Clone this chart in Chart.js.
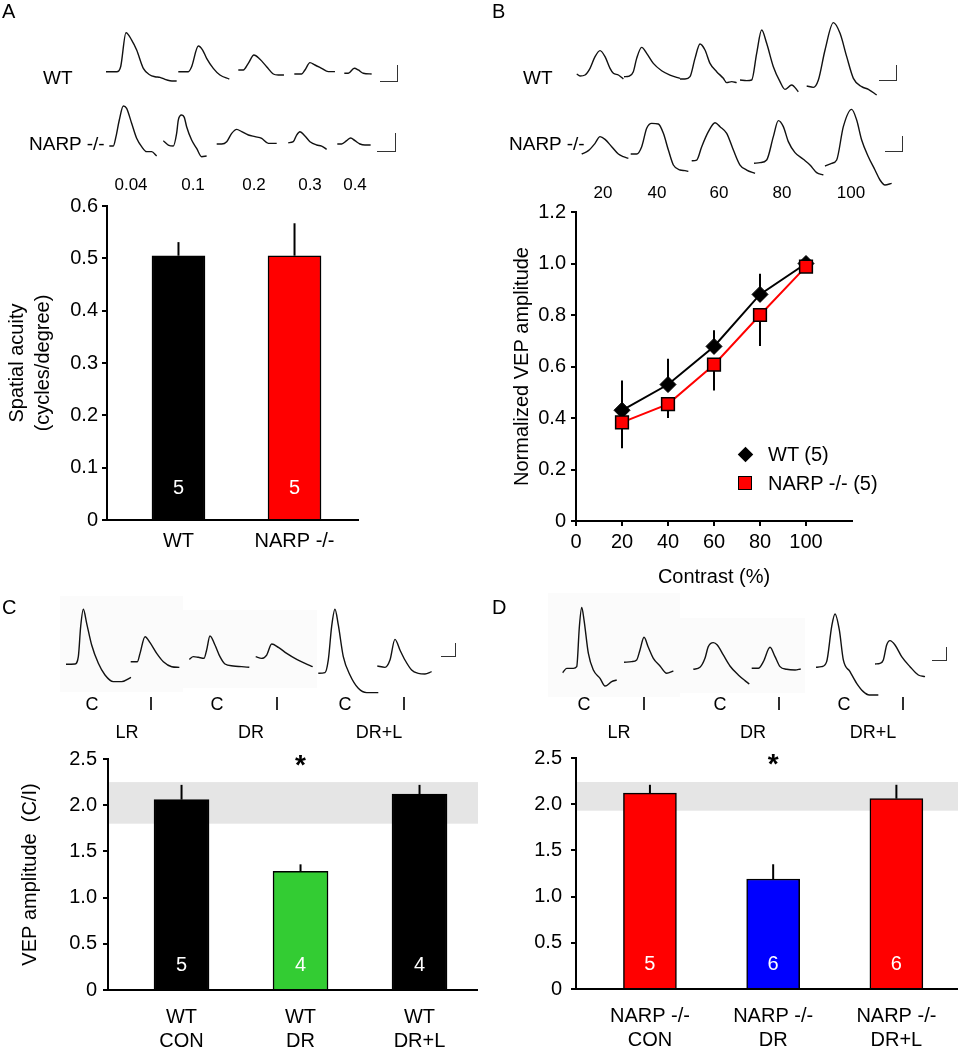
<!DOCTYPE html>
<html>
<head>
<meta charset="utf-8">
<script src="https://cdn.jsdelivr.net/npm/chart.js@4.4.0/dist/chart.umd.min.js"></script>
<style>
body { margin: 0; background: #fff; width: 958px; height: 1050px; position: relative; overflow: hidden;
       font-family: "Liberation Sans", Arial, sans-serif; color: #000; }
canvas { position: absolute; }
.t { position: absolute; transform: translate(-50%, -50%); white-space: nowrap; font-size: 18px; }
.l { position: absolute; transform: translateY(-50%); white-space: nowrap; font-size: 19px; }
.sb { position: absolute; border-right: 1.5px solid #333; border-bottom: 1.5px solid #333; }
.bg { position: absolute; background: #fbfbfb; }
</style>
</head>
<body>
<div class="bg" style="left:60px;top:596px;width:123px;height:96px"></div>
<div class="bg" style="left:183px;top:610px;width:134px;height:78px"></div>
<div class="bg" style="left:548px;top:593px;width:132px;height:104px"></div>
<div class="bg" style="left:680px;top:618px;width:125px;height:75px"></div>

<canvas id="chartA" width="420" height="380" style="left:0;top:180px"></canvas>
<canvas id="chartB" width="478" height="406" style="left:480px;top:185px"></canvas>
<canvas id="chartC" width="480" height="315" style="left:0;top:735px"></canvas>
<canvas id="chartD" width="478" height="315" style="left:480px;top:735px"></canvas>
<canvas id="traces" width="958" height="1050" style="left:0;top:0;pointer-events:none"></canvas>

<div class="sb" style="left:380px;top:65px;width:17px;height:16px"></div>
<div class="sb" style="left:377px;top:133px;width:18px;height:18px"></div>
<div class="sb" style="left:879px;top:65px;width:17px;height:15px"></div>
<div class="sb" style="left:885px;top:136px;width:17px;height:15px"></div>
<div class="sb" style="left:441px;top:643px;width:14px;height:13px"></div>
<div class="sb" style="left:932px;top:647px;width:14px;height:13px"></div>

<div id="texts"></div>

<script>
// ---- A: spatial acuity ----
const groupsA = ['WT', 'NARP -/-'];
const acuity = [0.505, 0.505];
const acuityErr = [0.026, 0.062];
const nA = [5, 5];
const spatialFreqs = ['0.04', '0.1', '0.2', '0.3', '0.4'];

// ---- B: contrast response ----
const contrast = [20, 40, 60, 80, 100];
const wtAmp = [0.43, 0.53, 0.678, 0.88, 1.0];
const wtErr = [0.116, 0.10, 0.063, 0.08, 0];
const narpAmp = [0.383, 0.454, 0.607, 0.80, 0.988];
const narpErr = [0.10, 0.054, 0.10, 0.12, 0];

// ---- C / D: C/I ratio ----
const rearing = ['LR', 'DR', 'DR+L'];
const eyes = ['C', 'I', 'C', 'I', 'C', 'I'];
const groupsC = [['WT', 'CON'], ['WT', 'DR'], ['WT', 'DR+L']];
const ratioC = [2.06, 1.285, 2.12];
const ratioErrC = [0.16, 0.075, 0.10];
const nC = [5, 4, 4];
const bandC = [1.80, 2.25];
const groupsD = [['NARP -/-', 'CON'], ['NARP -/-', 'DR'], ['NARP -/-', 'DR+L']];
const ratioD = [2.12, 1.19, 2.06];
const ratioErrD = [0.09, 0.16, 0.15];
const nD = [5, 6, 6];
const bandD = [1.93, 2.24];
const signif = ['', '*', ''];

// ---- example VEP traces: [time ms, amplitude uV] ----
const tracesA_WT = [
  [[0,0],[64,0],[88,15],[120,117],[154,95],[184,65],[224,10],[264,-10],[294,-15],[324,-17],[354,-23],[384,-27],[424,-28]],
  [[0,0],[60,0],[80,15],[120,77],[146,65],[170,40],[210,10],[250,-10],[306,-22]],
  [[0,0],[30,0],[60,20],[94,45],[130,32],[170,10],[210,-12],[240,-15],[274,-15]],
  [[0,0],[44,0],[64,12],[94,34],[124,27],[164,17],[204,7],[244,7]],
  [[0,0],[24,0],[60,15],[84,10],[114,0],[164,-2]]
];
const tracesA_NARP = [
  [[0,0],[24,0],[40,28],[60,78],[84,120],[104,113],[134,68],[164,23],[194,-2],[224,-17],[254,-17],[284,-30]],
  [[0,0],[30,-13],[60,-16],[80,22],[90,62],[110,77],[126,70],[140,42],[170,2],[200,-23],[230,-48],[260,-46]],
  [[0,0],[30,0],[60,7],[90,32],[120,44],[150,37],[190,27],[230,22],[270,17],[310,2],[360,2]],
  [[0,0],[30,3],[50,23],[70,33],[100,20],[130,3],[170,-7],[200,-10],[230,-20]],
  [[0,0],[26,0],[56,10],[80,18],[106,10],[136,0],[166,-3],[200,-3]]
];
const tracesB_WT = [
  [[0,0],[20,-6],[50,-3],[80,17],[110,52],[140,70],[170,52],[200,17],[220,2],[250,-3],[280,-15]],
  [[0,0],[32,2],[56,15],[76,55],[106,88],[136,70],[176,40],[226,18],[276,5],[336,-5]],
  [[0,0],[30,0],[60,7],[90,62],[120,105],[150,87],[180,47],[220,22],[260,2],[280,-11],[310,-8],[340,-11]],
  [[0,0],[40,-2],[70,0],[100,80],[130,150],[160,110],[200,40],[240,-5],[270,-28],[310,-15],[350,-35]],
  [[0,0],[40,-4],[70,18],[110,108],[160,190],[200,158],[240,88],[280,23],[330,-2],[370,-10],[420,-27]]
];
const tracesB_NARP = [
  [[0,0],[40,10],[80,32],[110,52],[140,44],[180,22],[220,0],[250,-8],[280,-13]],
  [[0,0],[36,0],[66,22],[96,77],[126,92],[166,90],[196,62],[226,12],[256,-33],[296,-48],[326,-50],[346,-52]],
  [[0,0],[30,2],[60,42],[100,87],[140,114],[170,102],[210,82],[250,32],[290,-13],[330,-28],[380,-38]],
  [[0,0],[36,2],[76,10],[116,80],[146,128],[176,110],[206,65],[246,32],[296,12],[336,-5],[376,-28],[416,-35]],
  [[0,0],[40,8],[70,18],[110,118],[160,170],[190,138],[220,78],[260,28],[300,-12],[330,-42],[360,-57],[400,-52]]
];
const tracesC = [
  [[0,0],[54,1],[74,23],[88,113],[104,165],[124,123],[154,58],[194,3],[234,-32],[284,-52],[334,-52],[390,-39]],
  [[0,0],[40,0],[56,25],[86,75],[116,57],[156,25],[196,0],[246,-15],[292,-17]],
  [[0,0],[24,8],[54,6],[88,3],[104,28],[124,70],[154,43],[184,8],[214,-14],[264,-20],[314,-22],[360,-24]],
  [[0,0],[36,-5],[66,5],[96,38],[136,28],[186,10],[246,-8],[296,-20],[342,-30]],
  [[0,0],[40,2],[60,40],[80,140],[100,192],[120,145],[150,50],[190,-5],[240,-45],[290,-58],[360,-58]],
  [[0,0],[46,-4],[76,18],[106,80],[136,48],[166,18],[206,-12],[246,-22],[286,-24],[326,-17]]
];
const tracesD = [
  [[0,0],[24,13],[64,13],[84,18],[100,138],[114,196],[128,158],[154,58],[184,8],[224,-17],[254,-40],[294,-27],[324,-22]],
  [[0,0],[46,2],[76,7],[96,37],[120,75],[146,45],[176,12],[216,-11],[256,-33],[296,-26]],
  [[0,0],[40,6],[70,33],[90,68],[120,80],[144,73],[180,43],[220,10],[270,-17],[310,-34],[336,-44]],
  [[0,0],[40,0],[70,20],[110,63],[140,35],[170,5],[210,-3],[260,-5],[294,-2]],
  [[0,0],[34,2],[64,17],[94,122],[114,160],[140,112],[164,22],[204,-13],[244,-48],[284,-73],[320,-83],[374,-83]],
  [[0,0],[30,2],[50,12],[70,57],[90,70],[120,57],[160,22],[210,-8],[260,-33],[300,-38]]
];

// where each trace starts on the page (x, baseline y), px
const posA_WT = [[106,71.7],[178.3,71.7],[238.3,70],[294.3,74],[344.3,73.3]];
const posA_NARP = [[109.3,146],[163.3,140.7],[216.7,144],[288.3,142.7],[337.3,144]];
const posB_WT = [[576.7,74],[624,76.7],[680,79],[740,80],[806.7,86]];
const posB_NARP = [[581.7,154],[630.7,154],[691.7,160.7],[754,163.3],[825,166]];
const posC = [[66,664.3],[130.7,661.7],[189.3,659.3],[255.7,656.7],[318.3,673.3],[377.3,666]];
const posD = [[562.7,672.7],[624,662.3],[693.3,669.3],[751.7,668.3],[816,667.3],[875,664]];

const FONT = '"Liberation Sans", Arial, sans-serif';
Chart.defaults.font.family = FONT;
Chart.defaults.color = '#000';
Chart.defaults.animation = false;

const fmt = v => (v === 0 ? '0' : v.toFixed(1));

// text labels around the traces
const textBox = document.getElementById('texts');
function addText(txt, x, y, cls, size) {
  const d = document.createElement('div');
  d.className = cls;
  d.textContent = txt;
  d.style.left = x + 'px';
  d.style.top = y + 'px';
  if (size) d.style.fontSize = size + 'px';
  textBox.appendChild(d);
}
addText('A', 2, 11, 'l', 20);
addText('B', 492, 11, 'l', 20);
addText('C', 2, 607, 'l', 20);
addText('D', 492, 607, 'l', 20);
addText('WT', 43, 78, 'l');
addText('NARP -/-', 29, 144, 'l');
addText('WT', 523, 78, 'l');
addText('NARP -/-', 509, 144, 'l');
[131, 193, 254, 310, 355].forEach((x, i) => addText(spatialFreqs[i], x, 185, 't', 17));
[603, 657, 719, 782, 851].forEach((x, i) => addText(String(contrast[i]), x, 193, 't', 17));
[92, 151, 217, 277, 345, 404].forEach((x, i) => addText(eyes[i], x, 704, 't', 18));
[584, 644, 720, 779, 844, 903].forEach((x, i) => addText(eyes[i], x, 704, 't', 18));
[127, 251, 379].forEach((x, i) => addText(rearing[i], x, 732, 't', 18));
[619, 753, 873].forEach((x, i) => addText(rearing[i], x, 732, 't', 18));
addText('WT (5)', 768, 454, 'l', 20);
addText('NARP -/- (5)', 768, 483, 'l', 20);
// legend markers
const dia = document.createElement('div');
dia.style.cssText = 'position:absolute;left:740px;top:449px;width:11px;height:11px;background:#000;transform:rotate(45deg)';
textBox.appendChild(dia);
const sq = document.createElement('div');
sq.style.cssText = 'position:absolute;left:738px;top:476px;width:12px;height:12px;background:#f00;border:1.5px solid #000';
textBox.appendChild(sq);

// bar panel with error bars, n labels, optional band and stars
function barPanel(id, o) {
  const extras = {
    id: 'extras',
    beforeDatasetsDraw(chart) {
      if (!o.band) return;
      const { ctx, chartArea: a, scales: { y } } = chart;
      const y0 = y.getPixelForValue(o.band[0]), y1 = y.getPixelForValue(o.band[1]);
      ctx.save();
      ctx.fillStyle = '#e5e5e5';
      ctx.fillRect(a.left + 1, y1, a.right - a.left, y0 - y1);
      ctx.restore();
    },
    afterDatasetsDraw(chart) {
      const { ctx, scales: { y } } = chart;
      ctx.save();
      chart.getDatasetMeta(0).data.forEach((bar, i) => {
        const v = o.values[i];
        ctx.strokeStyle = '#000';
        ctx.lineWidth = 2;
        ctx.beginPath();
        ctx.moveTo(bar.x, y.getPixelForValue(v));
        ctx.lineTo(bar.x, y.getPixelForValue(v + o.errs[i]));
        ctx.stroke();
        ctx.fillStyle = '#fff';
        ctx.font = '20px ' + FONT;
        ctx.textAlign = 'center';
        ctx.textBaseline = 'middle';
        ctx.fillText(String(o.ns[i]), bar.x, y.bottom - o.nOffset);
        if (o.stars && o.stars[i]) {
          ctx.fillStyle = '#000';
          ctx.font = 'bold 28px ' + FONT;
          ctx.fillText(o.stars[i], bar.x, y.getPixelForValue(2.42));
        }
      });
      ctx.restore();
    }
  };
  return new Chart(document.getElementById(id), {
    type: 'bar',
    data: {
      datasets: [{
        data: o.values.map((v, i) => ({ x: i, y: v })),
        backgroundColor: o.colors,
        borderColor: '#000',
        borderWidth: 1.5,
        barThickness: o.barW
      }]
    },
    options: {
      responsive: false,
      events: [],
      layout: { padding: o.pad },
      plugins: { legend: { display: false }, tooltip: { enabled: false } },
      scales: {
        x: {
          type: 'linear', min: o.xMin, max: o.xMax, offset: false,
          afterBuildTicks: s => { s.ticks = o.labels.map((_, i) => ({ value: i })); },
          afterFit: s => { s.height = o.xH; },
          grid: { display: false, drawTicks: false, tickLength: 0, offset: false },
          border: { display: true, color: '#000', width: 2 },
          ticks: { autoSkip: false, maxRotation: 0, padding: o.xPad, font: { size: 20 }, callback: v => o.labels[v] }
        },
        y: {
          min: 0, max: o.yMax,
          afterFit: s => { s.width = o.yW; },
          grid: { drawOnChartArea: false, drawTicks: true, tickLength: 5, color: '#000', lineWidth: 2 },
          border: { display: true, color: '#000', width: 2 },
          ticks: { stepSize: o.step, padding: o.yPad, font: { size: 20 }, callback: fmt },
          title: o.title ? { display: true, text: o.title, font: { size: 20, lineHeight: 1.3 }, padding: { top: o.titlePad } } : { display: false }
        }
      }
    },
    plugins: [extras]
  });
}

barPanel('chartA', {
  labels: groupsA, values: acuity, errs: acuityErr, ns: nA, colors: ['#000000', '#ff0000'],
  xMin: -0.616, xMax: 1.547, barW: 53, yMax: 0.6, step: 0.1, yW: 107, xH: 40, xPad: 9, yPad: 4,
  pad: { top: 26, right: 62, left: 0, bottom: 0 }, nOffset: 32,
  title: ['Spatial acuity', '(cycles/degree)'], titlePad: 4
});
barPanel('chartC', {
  labels: groupsC, values: ratioC, errs: ratioErrC, ns: nC, colors: ['#000000', '#33cc33', '#000000'],
  xMin: -0.618, xMax: 2.483, barW: 55, yMax: 2.5, step: 0.5, yW: 108, xH: 60, xPad: 15, yPad: 6,
  pad: { top: 24, right: 3, left: 0, bottom: 0 }, nOffset: 25, band: bandC, stars: signif,
  title: 'VEP amplitude  (C/I)', titlePad: 17
});
barPanel('chartD', {
  labels: groupsD, values: ratioD, errs: ratioErrD, ns: nD, colors: ['#ff0000', '#0000ff', '#ff0000'],
  xMin: -0.60, xMax: 2.50, barW: 53, yMax: 2.5, step: 0.5, yW: 96, xH: 61, xPad: 15, yPad: 9,
  pad: { top: 23, right: 0, left: 0, bottom: 0 }, nOffset: 25, band: bandD, stars: signif
});

// B: normalized VEP amplitude vs contrast
const errB = {
  id: 'errB',
  beforeDatasetsDraw(chart) {
    const { ctx, scales: { x, y } } = chart;
    ctx.save();
    ctx.strokeStyle = '#000';
    ctx.lineWidth = 2;
    contrast.forEach((c, i) => {
      const px = x.getPixelForValue(c);
      ctx.beginPath();
      ctx.moveTo(px, y.getPixelForValue(wtAmp[i]));
      ctx.lineTo(px, y.getPixelForValue(wtAmp[i] + wtErr[i]));
      ctx.moveTo(px, y.getPixelForValue(narpAmp[i]));
      ctx.lineTo(px, y.getPixelForValue(narpAmp[i] - narpErr[i]));
      ctx.stroke();
    });
    ctx.restore();
  }
};
new Chart(document.getElementById('chartB'), {
  type: 'line',
  data: {
    datasets: [
      {
        label: 'NARP -/- (5)',
        data: contrast.map((c, i) => ({ x: c, y: narpAmp[i] })),
        borderColor: '#ff0000', borderWidth: 2,
        pointStyle: 'rect', pointRadius: 9, pointBackgroundColor: '#ff0000',
        pointBorderColor: '#000', pointBorderWidth: 1.5
      },
      {
        label: 'WT (5)',
        data: contrast.map((c, i) => ({ x: c, y: wtAmp[i] })),
        borderColor: '#000', borderWidth: 2,
        pointStyle: 'rectRot', pointRadius: 8, pointBackgroundColor: '#000',
        pointBorderColor: '#000', pointBorderWidth: 1
      }
    ]
  },
  options: {
    responsive: false,
    events: [],
    layout: { padding: { top: 27, right: 106, left: 0, bottom: 0 } },
    plugins: { legend: { display: false }, tooltip: { enabled: false } },
    scales: {
      x: {
        type: 'linear', min: 0, max: 120,
        afterBuildTicks: s => { s.ticks = s.ticks.filter(t => t.value <= 100); },
        afterFit: s => { s.height = 70; },
        grid: { drawOnChartArea: false, drawTicks: true, tickLength: 5, color: '#000', lineWidth: 2 },
        border: { display: true, color: '#000', width: 2 },
        ticks: { stepSize: 20, padding: 4, font: { size: 20 } },
        title: { display: true, text: 'Contrast (%)', font: { size: 20 }, padding: { top: 0, bottom: 2 } }
      },
      y: {
        min: 0, max: 1.2,
        afterFit: s => { s.width = 96; },
        grid: { drawOnChartArea: false, drawTicks: true, tickLength: 5, color: '#000', lineWidth: 2 },
        border: { display: true, color: '#000', width: 2 },
        ticks: { stepSize: 0.2, padding: 5, font: { size: 20 }, callback: fmt },
        title: { display: true, text: 'Normalized VEP amplitude', font: { size: 20 }, padding: { top: 30 } }
      }
    }
  },
  plugins: [errB]
});

// overlay: all example traces on one page-sized linear scale
const MS_PER_PX = 6, UV_PER_PX = 3, W = 958, H = 1050;
const traceSets = [
  [tracesA_WT, posA_WT], [tracesA_NARP, posA_NARP],
  [tracesB_WT, posB_WT], [tracesB_NARP, posB_NARP],
  [tracesC, posC], [tracesD, posD]
];
const traceData = [];
traceSets.forEach(([traces, pos]) => traces.forEach((tr, k) => {
  const [sx, sy] = pos[k];
  traceData.push({
    data: tr.map(([t, v]) => ({ x: sx * MS_PER_PX + t, y: (H - sy) * UV_PER_PX + v })),
    borderColor: '#111', borderWidth: 1.4, pointRadius: 0,
    cubicInterpolationMode: 'monotone', fill: false
  });
}));
new Chart(document.getElementById('traces'), {
  type: 'line',
  data: { datasets: traceData },
  options: {
    responsive: false,
    events: [],
    layout: { padding: 0 },
    plugins: { legend: { display: false }, tooltip: { enabled: false } },
    scales: {
      x: { type: 'linear', display: false, min: 0, max: W * MS_PER_PX },
      y: { type: 'linear', display: false, min: 0, max: H * UV_PER_PX }
    }
  }
});
</script>
</body>
</html>
